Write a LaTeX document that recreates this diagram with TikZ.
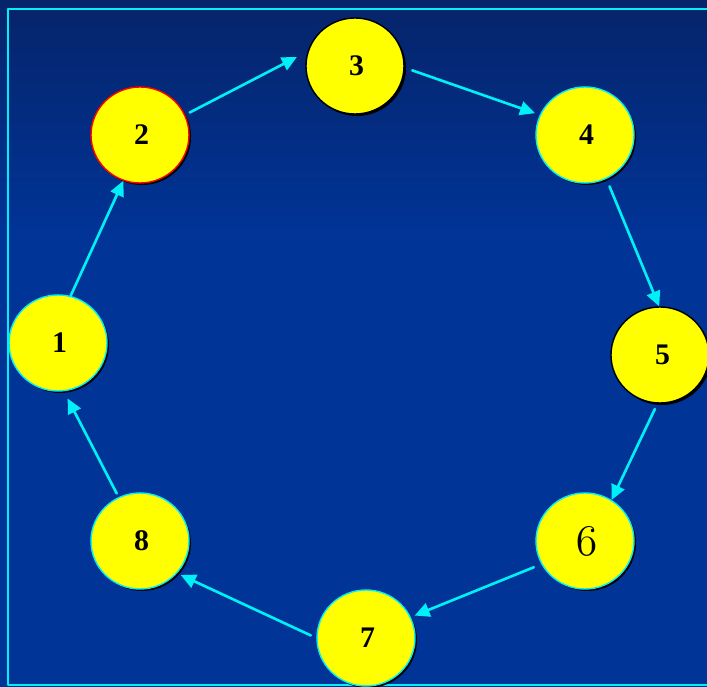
\documentclass[tikz,border=0pt]{standalone}
\usepackage{fontspec}
\setmainfont{Liberation Serif}
\usepackage{tikz}
\usetikzlibrary{arrows.meta,shapes.geometric,shadows}
\definecolor{navtop}{HTML}{06246A}
\definecolor{navmid}{HTML}{003497}
\definecolor{ringc}{HTML}{00F0F8}
\definecolor{ball}{HTML}{FFFF00}
\newcommand{\oldsix}{{\usefont{OML}{cmm}{m}{it}6}}
\tikzset{
  every picture/.style={line join=round, line cap=round, >=Stealth},
  ball/.style={ellipse, minimum width=1.96cm, minimum height=1.92cm, inner sep=0pt,
    fill=ball, draw=ringc, line width=0.8pt, font=\fontsize{17}{20}\selectfont\bfseries,
    drop shadow={shadow xshift=0.04cm, shadow yshift=-0.04cm, opacity=1, fill=black}},
  flow/.style={ringc, line width=1.5pt, -{Triangle[length=0.30cm,width=0.28cm]}},
}

\begin{document}
\begin{tikzpicture}
\useasboundingbox (0,0) rectangle (14.14,13.74);
\clip (0,0) rectangle (14.14,13.74);
% background
\fill[navmid] (0,0) rectangle (14.14,13.74);
\shade[top color=navtop, bottom color=navmid] (0,9.0) rectangle (14.14,13.74);
\draw[ringc, line width=1.1pt] (0.16,0.04) rectangle (14.60,13.56);
% the ring
\node[ball] (n1) at (1.160,6.880) {\hspace{0.06cm}1};
\node[ball, draw=red] (n2) at (2.800,11.040) {\hspace{0.06cm}2};
\node[ball, draw=black] (n3) at (7.100,12.420) {\hspace{0.06cm}3};
\node[ball] (n4) at (11.700,11.040) {\hspace{0.06cm}4};
\node[ball, draw=black] (n5) at (13.200,6.640) {\hspace{0.10cm}5};
\node[ball, font=\fontsize{24}{26}\selectfont] (n6) at (11.700,2.920) {\hspace{0.06cm}\oldsix};
\node[ball] (n7) at (7.320,0.980) {\hspace{0.06cm}7};
\node[ball] (n8) at (2.800,2.920) {\hspace{0.06cm}8};
% arrows
\draw[flow] (n1.75) -- (n2.250);
\draw[flow, shorten <=0.10cm, shorten >=0.24cm] (n2.24) -- (n3.163);
\draw[flow, shorten <=0.16cm, shorten >=0.10cm] (n3.-2) -- (n4.156);
\draw[flow, shorten <=0.16cm] (n4.-64) -- (n5.91);
\draw[flow, shorten <=0.12cm] (n5.-93) -- (n6.57);
\draw[flow, shorten <=0.16cm, shorten >=0.08cm] (n6.208) -- (n7.25);
\draw[flow, shorten <=0.12cm, shorten >=0.08cm] (n7.180) -- (n8.-41);
\draw[flow, shorten <=0.08cm, shorten >=0.16cm] (n8.116) -- (n1.-83);
\end{tikzpicture}
\end{document}
